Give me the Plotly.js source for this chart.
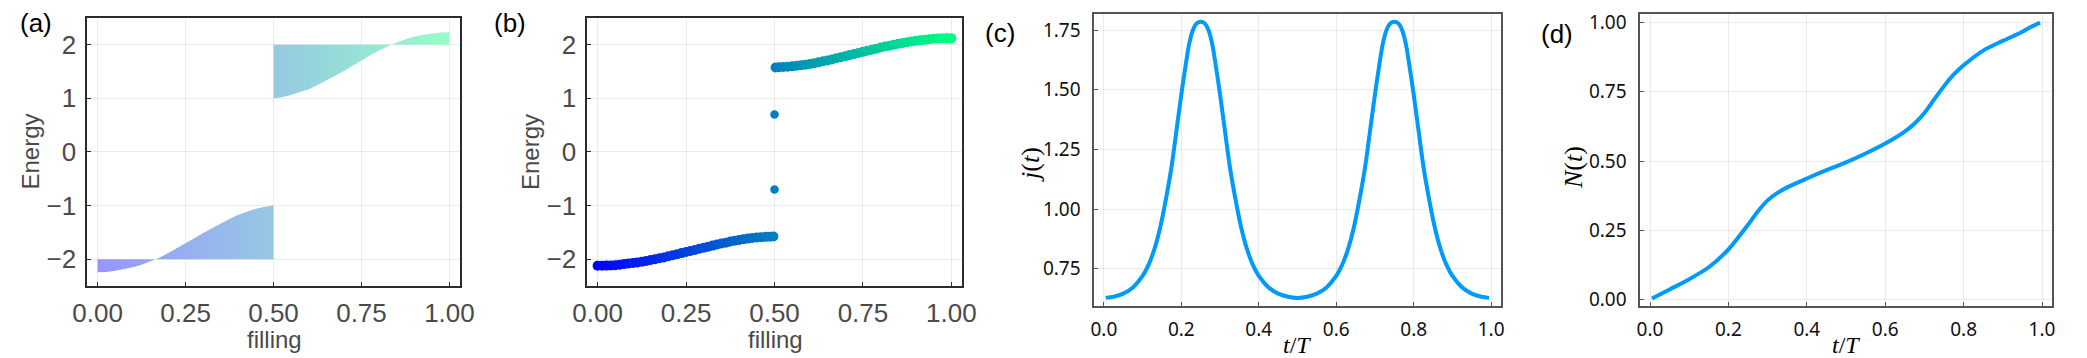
<!DOCTYPE html>
<html>
<head>
<meta charset="utf-8">
<script src="https://cdn.plot.ly/plotly-3.0.1.min.js"></script>
<style>html,body{margin:0;padding:0;background:#fff;}#plot{width:2087px;height:358px;}</style>
</head>
<body>
<div id="plot"></div>
<script>
// ---------- Panel (a): band fills ----------
const aLowerX = [0,0.025,0.05,0.075,0.1,0.125,0.15,0.175,0.2,0.225,0.25,0.275,0.3,0.325,0.35,0.375,0.4,0.425,0.45,0.475,0.5];
const aLowerE = [-2.24,-2.235,-2.215,-2.185,-2.15,-2.10,-2.04,-1.97,-1.89,-1.80,-1.71,-1.61,-1.51,-1.42,-1.33,-1.25,-1.17,-1.11,-1.06,-1.02,-1.0];
const aUpperX = [0.5,0.525,0.55,0.575,0.6,0.625,0.65,0.675,0.7,0.725,0.75,0.775,0.8,0.825,0.85,0.875,0.9,0.925,0.95,0.975,1.0];
const aUpperE = [1.0,1.02,1.06,1.11,1.17,1.25,1.33,1.42,1.51,1.61,1.71,1.80,1.89,1.97,2.04,2.10,2.15,2.185,2.21,2.225,2.23];
const aLowerBase = -2;
const aUpperBase = 2;

// ---------- Panel (b): eigenvalues ----------
const bLowerX = [0,0.0125,0.025,0.0375,0.05,0.0625,0.075,0.0875,0.1,0.1125,0.125,0.1375,0.15,0.1625,0.175,0.1875,0.2,0.2125,0.225,0.2375,0.25,0.2625,0.275,0.2875,0.3,0.3125,0.325,0.3375,0.35,0.3625,0.375,0.3875,0.4,0.4125,0.425,0.4375,0.45,0.4625,0.475,0.4875,0.497];
const bLowerE = [-2.12,-2.12,-2.118,-2.115,-2.11,-2.10,-2.09,-2.08,-2.07,-2.06,-2.045,-2.03,-2.015,-2.0,-1.98,-1.965,-1.945,-1.925,-1.905,-1.885,-1.865,-1.845,-1.825,-1.805,-1.785,-1.765,-1.745,-1.725,-1.705,-1.69,-1.67,-1.655,-1.64,-1.625,-1.615,-1.605,-1.595,-1.588,-1.582,-1.578,-1.575];
const bEdgeX = [0.5,0.5];
const bEdgeE = [0.70,-0.70];
const bUpperX = [0.503,0.5125,0.525,0.5375,0.55,0.5625,0.575,0.5875,0.6,0.6125,0.625,0.6375,0.65,0.6625,0.675,0.6875,0.7,0.7125,0.725,0.7375,0.75,0.7625,0.775,0.7875,0.8,0.8125,0.825,0.8375,0.85,0.8625,0.875,0.8875,0.9,0.9125,0.925,0.9375,0.95,0.9625,0.975,0.9875,1.0];
const bUpperE = [1.575,1.578,1.582,1.588,1.595,1.605,1.615,1.625,1.64,1.655,1.67,1.69,1.705,1.725,1.745,1.765,1.785,1.805,1.825,1.845,1.865,1.885,1.905,1.925,1.945,1.965,1.98,2.0,2.015,2.03,2.045,2.06,2.07,2.08,2.09,2.10,2.11,2.115,2.118,2.12,2.12];

// ---------- Panel (c): current j(t) ----------
const cT = [0.005,0.025,0.05,0.075,0.1,0.115,0.13,0.145,0.16,0.175,0.19,0.2,0.21,0.22,0.23,0.24,0.25,0.26,0.27,0.28,0.29,0.3,0.31,0.325,0.34,0.355,0.37,0.385,0.4,0.425,0.45,0.475,0.5,
            0.525,0.55,0.575,0.6,0.615,0.63,0.645,0.66,0.675,0.69,0.7,0.71,0.72,0.73,0.74,0.75,0.76,0.77,0.78,0.79,0.8,0.81,0.825,0.84,0.855,0.87,0.885,0.9,0.925,0.95,0.975,0.995];
const cJ = [0.628,0.633,0.646,0.672,0.72,0.765,0.83,0.92,1.04,1.18,1.36,1.48,1.59,1.69,1.75,1.778,1.785,1.778,1.75,1.69,1.59,1.48,1.36,1.18,1.04,0.92,0.83,0.765,0.72,0.672,0.646,0.633,0.628,
            0.633,0.646,0.672,0.72,0.765,0.83,0.92,1.04,1.18,1.36,1.48,1.59,1.69,1.75,1.778,1.785,1.778,1.75,1.69,1.59,1.48,1.36,1.18,1.04,0.92,0.83,0.765,0.72,0.672,0.646,0.633,0.628];

// ---------- Panel (d): pumped charge N(t) ----------
const dT = [0.005,0.05,0.1,0.15,0.2,0.225,0.25,0.275,0.3,0.325,0.35,0.4,0.45,0.5,0.55,0.6,0.65,0.675,0.7,0.725,0.75,0.775,0.8,0.85,0.9,0.95,0.97,0.995];
const dN = [0.004,0.037,0.074,0.117,0.181,0.224,0.270,0.318,0.358,0.385,0.405,0.437,0.467,0.495,0.527,0.563,0.606,0.635,0.673,0.722,0.770,0.812,0.845,0.898,0.933,0.966,0.982,0.999];

// ---------- tick labels ----------
const abXTicks = [0,0.25,0.5,0.75,1];
const abXLabels = ["0.00","0.25","0.50","0.75","1.00"];
const abYTicks = [-2,-1,0,1,2];
const abYLabels = ["\u22122","\u22121","0","1","2"];
const cdXTicks = [0,0.2,0.4,0.6,0.8,1];
const cdXLabels = ["0.0","0.2","0.4","0.6","0.8","1.0"];
const cYTicks = [0.75,1,1.25,1.5,1.75];
const cYLabels = ["0.75","1.00","1.25","1.50","1.75"];
const dYTicks = [0,0.25,0.5,0.75,1];
const dYLabels = ["0.00","0.25","0.50","0.75","1.00"];

// ---------- styling ----------
const W = 2087, H = 358;
const px = (a,b) => [a/W, b/W];
const py = (top,bottom) => [1-bottom/H, 1-top/H];
const X = v => v/W;
const Y = v => 1 - v/H;

const winter = [[0,'rgb(0,0,255)'],[1,'rgb(0,255,128)']];
const lightLower = [[0,'rgb(150,150,252)'],[1,'rgb(150,200,228)']];
const lightUpper = [[0,'rgb(150,200,226)'],[1,'rgb(152,252,200)']];

const traces = [
  {x: aLowerX.concat([0.5,0]), y: aLowerE.concat([aLowerBase,aLowerBase]), xaxis:'x', yaxis:'y',
   mode:'lines', fill:'toself', line:{width:0}, fillgradient:{type:'horizontal', colorscale: lightLower}, hoverinfo:'skip'},
  {x: aUpperX.concat([1,0.5]), y: aUpperE.concat([aUpperBase,aUpperBase]), xaxis:'x', yaxis:'y',
   mode:'lines', fill:'toself', line:{width:0}, fillgradient:{type:'horizontal', colorscale: lightUpper}, hoverinfo:'skip'},
  {x: bLowerX, y: bLowerE, xaxis:'x2', yaxis:'y2', mode:'markers',
   marker:{size:10, color:bLowerX, colorscale:winter, cmin:0, cmax:1}},
  {x: bEdgeX, y: bEdgeE, xaxis:'x2', yaxis:'y2', mode:'markers',
   marker:{size:8.5, color:bEdgeX, colorscale:winter, cmin:0, cmax:1}},
  {x: bUpperX, y: bUpperE, xaxis:'x2', yaxis:'y2', mode:'markers',
   marker:{size:10, color:bUpperX, colorscale:winter, cmin:0, cmax:1}},
  {x: cT, y: cJ, xaxis:'x3', yaxis:'y3', mode:'lines', line:{color:'#009afa', width:4, shape:'spline', smoothing:0.8}},
  {x: dT, y: dN, xaxis:'x4', yaxis:'y4', mode:'lines', line:{color:'#009afa', width:4, shape:'spline', smoothing:0.8}}
];

const abFont = {family:'Liberation Sans', size:26, color:'#4a4a4a'};
const cdFont = {family:'Noto Sans', size:19, color:'#111'};

function ax(opts, font, lineColor){
  return Object.assign({
    showline:true, mirror:true, linecolor:lineColor, linewidth:1.6,
    showgrid:true, gridcolor:'rgba(0,0,0,0.08)', gridwidth:1, zeroline:false,
    ticks:'inside', ticklen:4, tickwidth:1, tickcolor:lineColor,
    tickmode:'array', tickfont:font, fixedrange:true
  }, opts);
}

const layout = {
  width:W, height:H, margin:{l:0,r:0,t:0,b:0},
  paper_bgcolor:'#fff', plot_bgcolor:'#fff', showlegend:false,
  xaxis: ax({domain:px(87,460), range:[-0.03,1.03], anchor:'y', tickvals:abXTicks, ticktext:abXLabels, ticklabelstandoff:3}, abFont, '#2b2b2b'),
  yaxis: ax({domain:py(17.8,286.1), range:[-2.5,2.5], anchor:'x', tickvals:abYTicks, ticktext:abYLabels, ticklabelstandoff:4}, abFont, '#2b2b2b'),
  xaxis2: ax({domain:px(587,962), range:[-0.03,1.03], anchor:'y2', tickvals:abXTicks, ticktext:abXLabels, ticklabelstandoff:3}, abFont, '#2b2b2b'),
  yaxis2: ax({domain:py(17.8,286.1), range:[-2.5,2.5], anchor:'x2', tickvals:abYTicks, ticktext:abYLabels, ticklabelstandoff:4}, abFont, '#2b2b2b'),
  xaxis3: ax({domain:px(1094,1501), range:[-0.0255,1.0255], anchor:'y3', tickvals:cdXTicks, ticktext:cdXLabels, ticklabelstandoff:6}, cdFont, '#555'),
  yaxis3: ax({domain:py(14,306), range:[0.594,1.817], anchor:'x3', tickvals:cYTicks, ticktext:cYLabels, ticklabelstandoff:8}, cdFont, '#555'),
  xaxis4: ax({domain:px(1640,2052), range:[-0.0255,1.0255], anchor:'y4', tickvals:cdXTicks, ticktext:cdXLabels, ticklabelstandoff:6}, cdFont, '#555'),
  yaxis4: ax({domain:py(14,306), range:[-0.0227,1.030], anchor:'x4', tickvals:dYTicks, ticktext:dYLabels, ticklabelstandoff:8}, cdFont, '#555'),
  annotations: [
    {text:'(a)', x:X(36), y:Y(23)},
    {text:'(b)', x:X(510), y:Y(23)},
    {text:'(c)', x:X(1000), y:Y(33)},
    {text:'(d)', x:X(1557), y:Y(34)},
  ].map(a => Object.assign({xref:'paper', yref:'paper', xanchor:'center', yanchor:'middle', showarrow:false,
      font:{family:'Liberation Sans', size:26, color:'#000'}}, a))
  .concat([
    {text:'Energy', x:X(29.5), y:Y(152), textangle:-90, font:{family:'Liberation Sans', size:24, color:'#4a4a4a'}},
    {text:'Energy', x:X(530), y:Y(152), textangle:-90, font:{family:'Liberation Sans', size:24, color:'#4a4a4a'}},
    {text:'filling', x:X(274), y:Y(339), font:{family:'Liberation Sans', size:24, color:'#4a4a4a'}},
    {text:'filling', x:X(775), y:Y(339), font:{family:'Liberation Sans', size:24, color:'#4a4a4a'}},
    {text:'<i>j</i>(<i>t</i>)', x:X(1030), y:Y(165), textangle:-90, font:{family:'Liberation Serif', size:26, color:'#000'}},
    {text:'<i>N</i>(<i>t</i>)', x:X(1574), y:Y(168), textangle:-90, font:{family:'Liberation Serif', size:26, color:'#000'}},
    {text:'<i>t</i>/<i>T</i>', x:X(1297), y:Y(345), font:{family:'Liberation Serif', size:24, color:'#000'}},
    {text:'<i>t</i>/<i>T</i>', x:X(1846), y:Y(345), font:{family:'Liberation Serif', size:24, color:'#000'}}
  ].map(a => Object.assign({xref:'paper', yref:'paper', xanchor:'center', yanchor:'middle', showarrow:false}, a)))
};

Plotly.newPlot('plot', traces, layout, {displayModeBar:false, staticPlot:true});
</script>
</body>
</html>
